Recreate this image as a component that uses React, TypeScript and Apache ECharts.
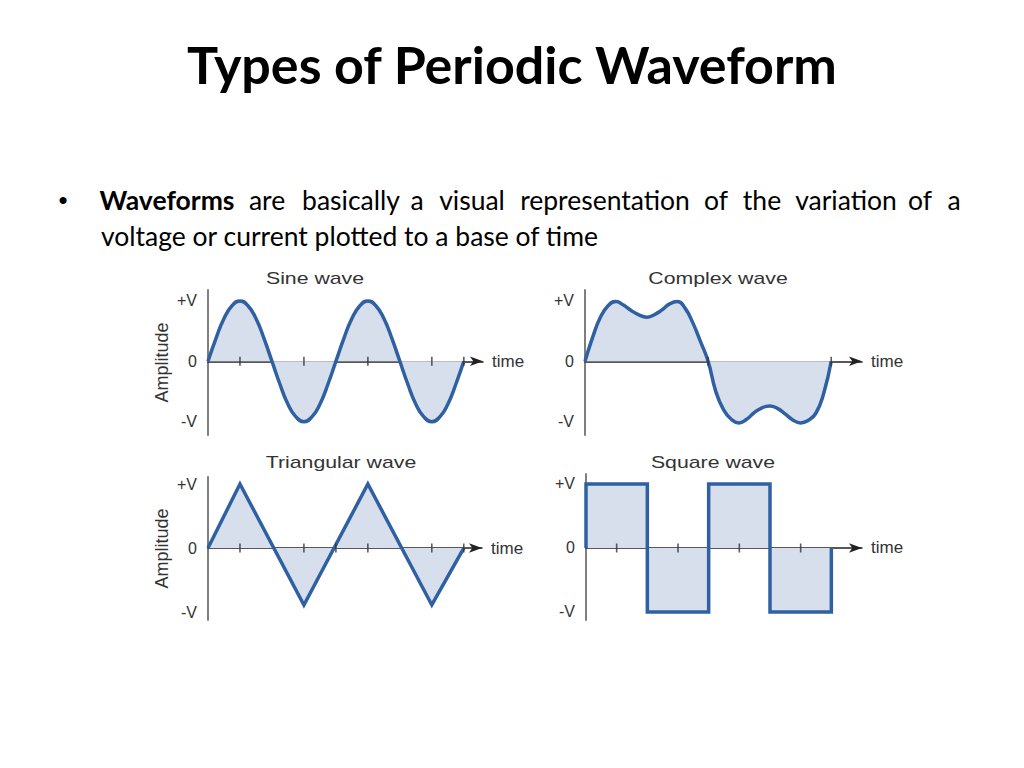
import React, { useEffect, useRef } from 'react';
import * as echarts from 'echarts';

// ---------- texts ----------
const slideTitle = 'Types of Periodic Waveform';
const bulletSymbol = '•';
const line1Words = ['Waveforms', 'are', 'basically', 'a', 'visual', 'representation', 'of', 'the', 'variation', 'of', 'a'];
const line1Centers = [167, 267, 351, 417, 472, 605, 716, 762, 846, 920, 954];
const line2Text = 'voltage or current plotted to a base of time';
const chartTitles = ['Sine wave', 'Complex wave', 'Triangular wave', 'Square wave'];
const xAxisName = 'time';
const yAxisName = 'Amplitude';
const yTickValues = [-1, 0, 1];
const yTickLabels = ['-V', '0', '+V'];

// ---------- data (x in quarter-period units, y in units of V) ----------
const sineX = [0, 0.25, 0.5, 0.75, 1, 1.25, 1.5, 1.75, 2, 2.25, 2.5, 2.75, 3, 3.25, 3.5, 3.75, 4, 4.25, 4.5, 4.75, 5, 5.25, 5.5, 5.75, 6, 6.25, 6.5, 6.75, 7, 7.25, 7.5, 7.75, 8];
const sineY = [0, 0.38, 0.71, 0.92, 1, 0.92, 0.71, 0.38, 0, -0.38, -0.71, -0.92, -1, -0.92, -0.71, -0.38, 0, 0.38, 0.71, 0.92, 1, 0.92, 0.71, 0.38, 0, -0.38, -0.71, -0.92, -1, -0.92, -0.71, -0.38, 0];
const sineTicks = [1, 3, 5, 7, 8];

const complexX = [0, 0.25, 0.5, 0.75, 1, 1.25, 1.5, 1.75, 2, 2.25, 2.5, 2.75, 3, 3.25, 3.5, 3.75, 4, 4.25, 4.5, 4.75, 5, 5.25, 5.5, 5.75, 6, 6.25, 6.5, 6.75, 7, 7.25, 7.5, 7.75, 8];
const complexY = [0, 0.4, 0.73, 0.92, 0.99, 0.93, 0.84, 0.77, 0.73, 0.77, 0.85, 0.95, 0.99, 0.88, 0.64, 0.33, 0, -0.5, -0.8, -0.96, -1.02, -0.96, -0.85, -0.77, -0.74, -0.78, -0.87, -0.97, -1.02, -0.98, -0.86, -0.54, 0];
const complexTicks = [4, 8];

const triX = [0, 1, 3, 5, 7, 8];
const triY = [0, 1, -0.89, 1, -0.89, 0];
const triTicks = [1, 3, 4, 5, 7, 8];

const squareX = [0, 0, 2, 2, 4, 4, 6, 6, 8, 8];
const squareY = [0, 1, 1, -1, -1, 1, 1, -1, -1, 0];
const squareTicks = [1, 3, 5, 7];

const LINE = '#2F60A2';
const FILL = '#D6DFEB';
const TEXT = '#333333';
const LABEL_FONT = 'Liberation Sans, Arial, sans-serif';

const zip = (xs: number[], ys: number[]) => xs.map((x, i) => [x, ys[i]]);

export default function App() {
  const ref = useRef<HTMLDivElement>(null);
  useEffect(() => {
    if (!ref.current) return;
    const chart = echarts.init(ref.current, undefined, { renderer: 'svg' });

    const grids = [
      { left: 208, top: 290, width: 275, height: 145 },
      { left: 585, top: 290, width: 277, height: 145 },
      { left: 208, top: 477, width: 274, height: 143 },
      { left: 586, top: 474, width: 276, height: 146 },
    ];
    const xMax = [8.6, 9, 8.57, 9];
    const yRange = [
      [-1.22, 1.18],
      [-1.22, 1.18],
      [-1.125, 1.11],
      [-1.125, 1.156],
    ];

    const xAxis = grids.map((_, i) => ({
      type: 'value',
      gridIndex: i,
      min: 0,
      max: xMax[i],
      name: xAxisName,
      nameLocation: 'end',
      nameGap: 9,
      nameTextStyle: { fontSize: 17, color: TEXT, fontFamily: LABEL_FONT, verticalAlign: 'middle' },
      axisLine: { show: true, onZero: true, symbol: ['none', 'arrow'], symbolSize: [7, 13], lineStyle: { color: '#222', width: 1.5 } },
      axisTick: { show: false },
      axisLabel: { show: false },
      splitLine: { show: false },
    }));

    const yAxis = grids.map((_, i) => ({
      type: 'value',
      gridIndex: i,
      min: yRange[i][0],
      max: yRange[i][1],
      name: i % 2 === 0 ? yAxisName : '',
      nameLocation: 'middle',
      nameRotate: 90,
      nameGap: 37,
      nameTextStyle: { fontSize: 18, color: TEXT, fontFamily: LABEL_FONT },
      axisLine: { show: true, onZero: false, lineStyle: { color: '#7f7f7f', width: 2 } },
      axisTick: { show: false },
      splitLine: { show: false },
      axisLabel: {
        show: true,
        customValues: yTickValues,
        margin: 11,
        fontSize: 16,
        color: TEXT,
        fontFamily: LABEL_FONT,
        formatter: (v: number) => yTickLabels[yTickValues.indexOf(Math.round(v))] ?? '',
      },
    }));

    const waves = [zip(sineX, sineY), zip(complexX, complexY), zip(triX, triY), zip(squareX, squareY)];
    const smooth = [0.5, 0.5, false, false];
    const ticks = [sineTicks, complexTicks, triTicks, squareTicks];

    const series: any[] = [];
    waves.forEach((d, i) => {
      series.push({
        type: 'line',
        xAxisIndex: i,
        yAxisIndex: i,
        data: d,
        smooth: smooth[i],
        showSymbol: false,
        lineStyle: { color: LINE, width: 3.5, join: 'miter' },
        areaStyle: { color: FILL, opacity: 1, origin: 0 },
        z: 3,
      });
      series.push({
        type: 'scatter',
        xAxisIndex: i,
        yAxisIndex: i,
        data: ticks[i].map((t) => [t, 0]),
        symbol: 'rect',
        symbolSize: [1.6, 9],
        itemStyle: { color: '#333' },
        z: 4,
        silent: true,
      });
    });

    const titlePos = [
      [315, 286],
      [718, 286],
      [341, 470],
      [713, 470],
    ];

    const graphic: any[] = [
      {
        type: 'text',
        x: 512,
        y: 64,
        style: {
          text: slideTitle,
          font: 'bold 52px Lato, sans-serif',
          fill: '#000',
          align: 'center',
          verticalAlign: 'middle',
          textAlign: 'center',
          textVerticalAlign: 'middle',
        },
      },
      {
        type: 'text',
        x: 63,
        y: 200,
        style: { text: bulletSymbol, font: '26px Liberation Sans, Arial', fill: '#000', align: 'center', verticalAlign: 'middle', textAlign: 'center', textVerticalAlign: 'middle' },
      },
      ...line1Words.map((w, i) => ({
        type: 'text',
        x: line1Centers[i],
        y: 200,
        style: {
          text: w,
          font: (i === 0 ? 'bold ' : '') + '26.5px Lato, sans-serif',
          fill: '#000',
          align: 'center',
          verticalAlign: 'middle',
          textAlign: 'center',
          textVerticalAlign: 'middle',
        },
      })),
      {
        type: 'text',
        x: 101,
        y: 236,
        style: { text: line2Text, font: '26.5px Lato, sans-serif', fill: '#000', align: 'left', verticalAlign: 'middle', textAlign: 'left', textVerticalAlign: 'middle' },
      },
      ...chartTitles.map((t, i) => ({
        type: 'text',
        x: titlePos[i][0],
        y: titlePos[i][1],
        scaleX: 1.33,
        style: {
          text: t,
          font: '16px ' + LABEL_FONT,
          fill: TEXT,
          align: 'center',
          verticalAlign: 'bottom',
          textAlign: 'center',
          textVerticalAlign: 'bottom',
        },
      })),
    ];

    chart.setOption({
      animation: false,
      backgroundColor: '#ffffff',
      grid: grids.map((g) => ({ ...g, containLabel: false })),
      xAxis,
      yAxis,
      series,
      graphic,
    });
    return () => chart.dispose();
  }, []);

  return <div ref={ref} style={{ position: 'absolute', left: 0, top: 0, width: 1024, height: 768 }} />;
}
